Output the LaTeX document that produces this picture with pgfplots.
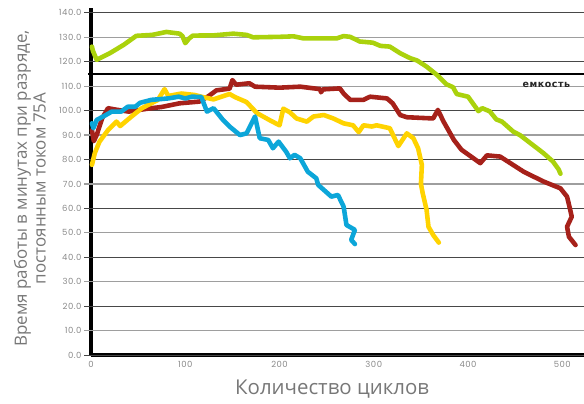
\documentclass[border=0pt]{standalone}
\usepackage{fontspec}
\setmainfont{Open Sans}
\newfontfamily\numfont[LetterSpace=6]{Poppins}
\newfontfamily\capfont[LetterSpace=6]{DejaVu Sans}
\usepackage{pgfplots}
\pgfplotsset{compat=1.18}
\definecolor{cgreen}{HTML}{AAD20C}
\definecolor{cred}{HTML}{A6211A}
\definecolor{cyellow}{HTML}{FFD300}
\definecolor{cblue}{HTML}{0CA6D9}
\definecolor{labgray}{HTML}{777777}
\definecolor{tickgray}{HTML}{8A8A8A}
\begin{document}
\begin{tikzpicture}
\useasboundingbox (0bp,0bp) rectangle (584bp,404bp);
\begin{axis}[
  at={(91bp,49bp)}, anchor=south west,
  scale only axis, width=493bp, height=347bp,
  xmin=0, xmax=523, ymin=0, ymax=142,
  axis x line*=bottom, axis y line*=left,
  axis line style={line width=3.5pt, black, -},
  xtick={0,100,...,500},
  ytick={0,10,...,140},
  major tick length=0pt,
  /pgf/number format/assume math mode=true,
  yticklabel style={/pgf/number format/fixed, /pgf/number format/fixed zerofill, /pgf/number format/precision=1,
     font=\numfont\fontsize{8.5}{10}\selectfont, text=tickgray, xshift=-6bp},
  xticklabel style={font=\numfont\fontsize{8.5}{10}\selectfont, text=tickgray, yshift=-3bp},
  xlabel={Количество циклов},
  xlabel style={at={(axis description cs:0.489,-0.099)}, anchor=center, font=\fontsize{20.5}{22}\selectfont, text=labgray},
  ylabel={Время работы в минутах при разряде,\\ постоянным током 75А},
  ylabel style={at={(axis description cs:-0.124,0.48)}, anchor=center, rotate=0, align=center, font=\fontsize{17}{19}\selectfont, text=labgray},
  every axis plot/.append style={line width=4.6pt, line join=round, line cap=round, mark=none},
  clip=false,
]
\pgfplotsinvokeforeach{0,20,...,140}{\draw[black!72, line width=0.9pt] (axis cs:-7.4,#1) -- (axis cs:523,#1);}
\pgfplotsinvokeforeach{10,30,...,130}{\draw[black!38, line width=1.3pt] (axis cs:-7.4,#1) -- (axis cs:523,#1);}
\draw[black, line width=2.6pt] (axis cs:-3,115) -- (axis cs:523,115);
\node[font=\capfont\bfseries\fontsize{9.5}{10}\selectfont, text=black!85] at (axis cs:483,110.4) {емкость};

\addplot[cgreen] coordinates {
(1,126.2) (2,124.5) (6,120.8) (20,123.5) (35,127) (48,130.6) (65,131) (80,132.2) (94,131.5) (97,130.5) (100,127.6) (104,129.5) (108,130.7) (130,130.8) (151,131.5) (165,131) (172,130) (200,130.2) (215,130.4) (225,129.6) (261,129.6) (268,130.5) (275,130.2) (285,128.3) (299,127.8) (307,126.5) (317,126.2) (328,123.5) (339,121.4) (346,120.5) (356,118) (367,114.6) (377,110.8) (384,109.6) (388,106.8) (400,105.7) (411,99.8) (415,101) (423,99.7) (430,96.4) (436,95.5) (448,91.4) (455,90) (480,82.6) (490,79.2) (496,76) (498,74.2)
};
\addplot[cred] coordinates {
(1,92) (3,87.5) (6,90) (12,97) (18,101) (25,100.5) (40,99.6) (50,100.2) (60,100.8) (75,101.5) (94,103) (115,103.7) (125,106) (133,108.3) (147,109) (150,112.5) (154,110.6) (168,111.2) (174,109.8) (200,109.4) (222,109.8) (243,108.8) (244,107.5) (246,108.7) (264,109.1) (268,107) (275,104.4) (289,104.4) (296,105.7) (314,105) (320,103) (328,98.2) (335,97.3) (363,96.8) (368,100.3) (374,95.5) (385,88) (393,84) (413,78.5) (420,81.7) (434,81.2) (459,75) (480,71) (498,68.2) (505,64.8) (508,60) (510,56.6) (505,52.5) (507,48.4) (514,45)
};
\addplot[cyellow] coordinates {
(1,77.8) (4,82.6) (9,87.3) (18,92) (27,95.5) (31,93.7) (43,97.6) (54,101) (71,104.4) (78,108.8) (82,106) (96,107) (110,106.4) (117,105.7) (130,104.6) (147,106.8) (153,105.5) (165,103.5) (176,99) (190,96) (200,94) (204,100.8) (211,99.3) (218,96.8) (229,95.5) (236,97.6) (247,98.2) (257,96.8) (268,94.8) (278,94) (284,91.2) (289,94) (298,93.5) (303,94) (317,92.8) (326,85.5) (335,90.7) (342,88.7) (347,84.6) (351,77.8) (350,70) (352,66) (356,59.4) (358,52.5) (363,49.1) (369,46)
};
\addplot[cblue] coordinates {
(1,94.8) (2.5,92.8) (6,96.2) (13,97.6) (22,99.6) (32,99.6) (39,101.6) (47,101.6) (52,103.2) (64,104.4) (82,105) (93,105.7) (100,105) (107,105.7) (117,105.6) (123,99.6) (130,101) (140,96.2) (147,93.5) (158,90) (165,90.7) (174,97.6) (179,88.7) (188,88) (193,84.6) (199,87.3) (207,83.2) (211,80.5) (216,81.9) (222,80.5) (230,75) (239,72.3) (241,69.6) (255,64.8) (262,65.5) (268,60.7) (271,53.2) (280,51.2) (276,47.1) (280,45.4)
};
\end{axis}
\end{tikzpicture}
\end{document}
